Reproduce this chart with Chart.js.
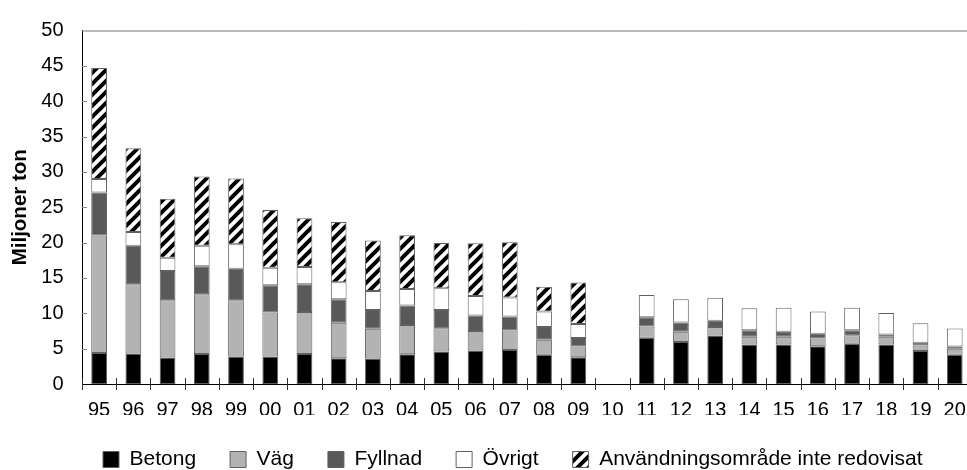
<!DOCTYPE html>
<html>
<head>
<meta charset="utf-8">
<script src="https://cdn.jsdelivr.net/npm/chart.js@4/dist/chart.umd.min.js"></script>
<style>
  html, body { margin: 0; padding: 0; overflow: hidden; background: #fff; }
  #wrap { width: 980px; height: 480px; }
</style>
</head>
<body>
<div id="wrap"><canvas id="chart"></canvas></div>
<script>
var years = ['95','96','97','98','99','00','01','02','03','04','05','06','07','08','09','10','11','12','13','14','15','16','17','18','19','20'];
var betong  = [4.4, 4.3, 3.75, 4.25, 3.9, 3.9, 4.25, 3.65, 3.6, 4.2, 4.6, 4.75, 4.8, 4.15, 3.8, null, 6.55, 5.95, 6.85, 5.6, 5.6, 5.35, 5.7, 5.6, 4.65, 4.15];
var vag     = [16.6, 9.8, 8.1, 8.45, 7.95, 6.2, 5.95, 5.0, 4.2, 4.15, 3.3, 2.75, 2.75, 2.1, 1.5, null, 1.6, 1.45, 1.2, 1.1, 1.1, 1.1, 1.2, 1.1, 0.8, 0.85];
var fyllnad = [6.1, 5.45, 4.15, 3.95, 4.45, 3.85, 3.9, 3.35, 2.65, 2.75, 2.55, 2.2, 2.0, 1.8, 1.2, null, 1.3, 1.3, 0.9, 0.9, 0.7, 0.65, 0.7, 0.3, 0.4, 0.3];
var ovrigt  = [1.9, 1.95, 1.85, 2.9, 3.45, 2.5, 2.45, 2.4, 2.7, 2.35, 3.1, 2.75, 2.7, 2.2, 2.0, null, 3.15, 3.3, 3.25, 3.1, 3.4, 3.15, 3.2, 3.05, 2.75, 2.55];
var ejRedovisat = [15.7, 11.85, 8.35, 9.8, 9.3, 8.15, 6.9, 8.5, 7.15, 7.6, 6.4, 7.45, 7.8, 3.5, 5.85, null, null, null, null, null, null, null, null, null, null, null];

// diagonal hatch for "Användningsområde inte redovisat"
function hatch() {
  var s = 11;
  var c = document.createElement('canvas');
  c.width = s; c.height = s;
  var g = c.getContext('2d');
  g.fillStyle = '#fff';
  g.fillRect(0, 0, s, s);
  g.strokeStyle = '#000';
  g.lineWidth = 4;
  g.beginPath();
  g.moveTo(-2, s + 2); g.lineTo(s + 2, -2);
  g.moveTo(-2, 2); g.lineTo(2, -2);
  g.moveTo(s - 2, s + 2); g.lineTo(s + 2, s - 2);
  g.stroke();
  return g.createPattern(c, 'repeat');
}

Chart.defaults.font.family = '"Liberation Sans", Arial, sans-serif';
Chart.defaults.color = '#000';

var frame = {
  id: 'frame',
  afterLayout: function(chart) {
    // legend sits a bit right of the plot centre in the original
    chart.legend.left += 26.5;
    chart.legend.right += 26.5;
  },
  afterDraw: function(chart) {
    var ctx = chart.ctx, a = chart.chartArea;
    var x = chart.scales.x, y = chart.scales.y;
    ctx.save();
    ctx.lineWidth = 1;
    ctx.strokeStyle = '#777';
    ctx.beginPath();
    ctx.moveTo(a.left, a.top + 0.5); ctx.lineTo(a.right, a.top + 0.5);
    ctx.moveTo(a.right - 0.5, a.top); ctx.lineTo(a.right - 0.5, a.bottom);
    ctx.stroke();
    ctx.strokeStyle = '#888';
    ctx.beginPath();
    for (var v = 5; v < 50; v += 5) {
      var py = Math.round(y.getPixelForValue(v)) + 0.5;
      ctx.moveTo(a.left, py); ctx.lineTo(a.left + 5, py);
    }
    ctx.stroke();
    ctx.strokeStyle = '#333';
    ctx.beginPath();
    for (var i = 0; i <= years.length; i++) {
      var px = Math.round(x.getPixelForValue(i - 0.5)) + 0.5;
      ctx.moveTo(px, a.bottom - 6); ctx.lineTo(px, a.bottom + 6);
    }
    ctx.stroke();
    ctx.restore();
  }
};

var border = '#606060';
var data = {
  labels: years,
  datasets: [
    { label: 'Betong', data: betong, backgroundColor: '#000', borderColor: border },
    { label: 'Väg', data: vag, backgroundColor: '#b3b3b3', borderColor: border },
    { label: 'Fyllnad', data: fyllnad, backgroundColor: '#595959', borderColor: border },
    { label: 'Övrigt', data: ovrigt, backgroundColor: '#fff', borderColor: border },
    { label: 'Användningsområde inte redovisat', data: ejRedovisat, backgroundColor: hatch(), borderColor: border }
  ]
};
data.datasets.forEach(function(d) {
  d.borderWidth = 1;
  d.borderSkipped = false;
  d.barPercentage = 0.46;
  d.categoryPercentage = 1;
});

var config = {
  type: 'bar',
  data: data,
  plugins: [frame],
  options: {
    responsive: true,
    maintainAspectRatio: false,
    animation: false,
    devicePixelRatio: 1,
    layout: { padding: { left: 0, right: 7.5, top: 23, bottom: 0 } },
    plugins: {
      tooltip: { enabled: false },
      legend: {
        position: 'bottom',
        labels: { boxWidth: 16, boxHeight: 16, padding: 34, font: { size: 21 }, color: '#000' }
      }
    },
    scales: {
      x: {
        stacked: true,
        offset: true,
        grid: { display: false, drawTicks: false },
        border: { display: true, color: '#000', width: 1 },
        ticks: { font: { size: 20 }, padding: 14, maxRotation: 0, autoSkip: false },
        afterFit: function(s) { s.height = 31; }
      },
      y: {
        stacked: true,
        min: 0,
        max: 50,
        grid: { display: false, drawTicks: false },
        border: { display: true, color: '#000', width: 1 },
        ticks: { stepSize: 5, font: { size: 20 }, padding: 18.5 },
        title: { display: true, text: 'Miljoner ton', font: { size: 20.5, weight: 'bold' }, padding: { top: 8, bottom: 0 } },
        afterFit: function(s) { s.width = 82; }
      }
    }
  }
};

var myChart = new Chart(document.getElementById('chart'), config);
</script>
</body>
</html>
